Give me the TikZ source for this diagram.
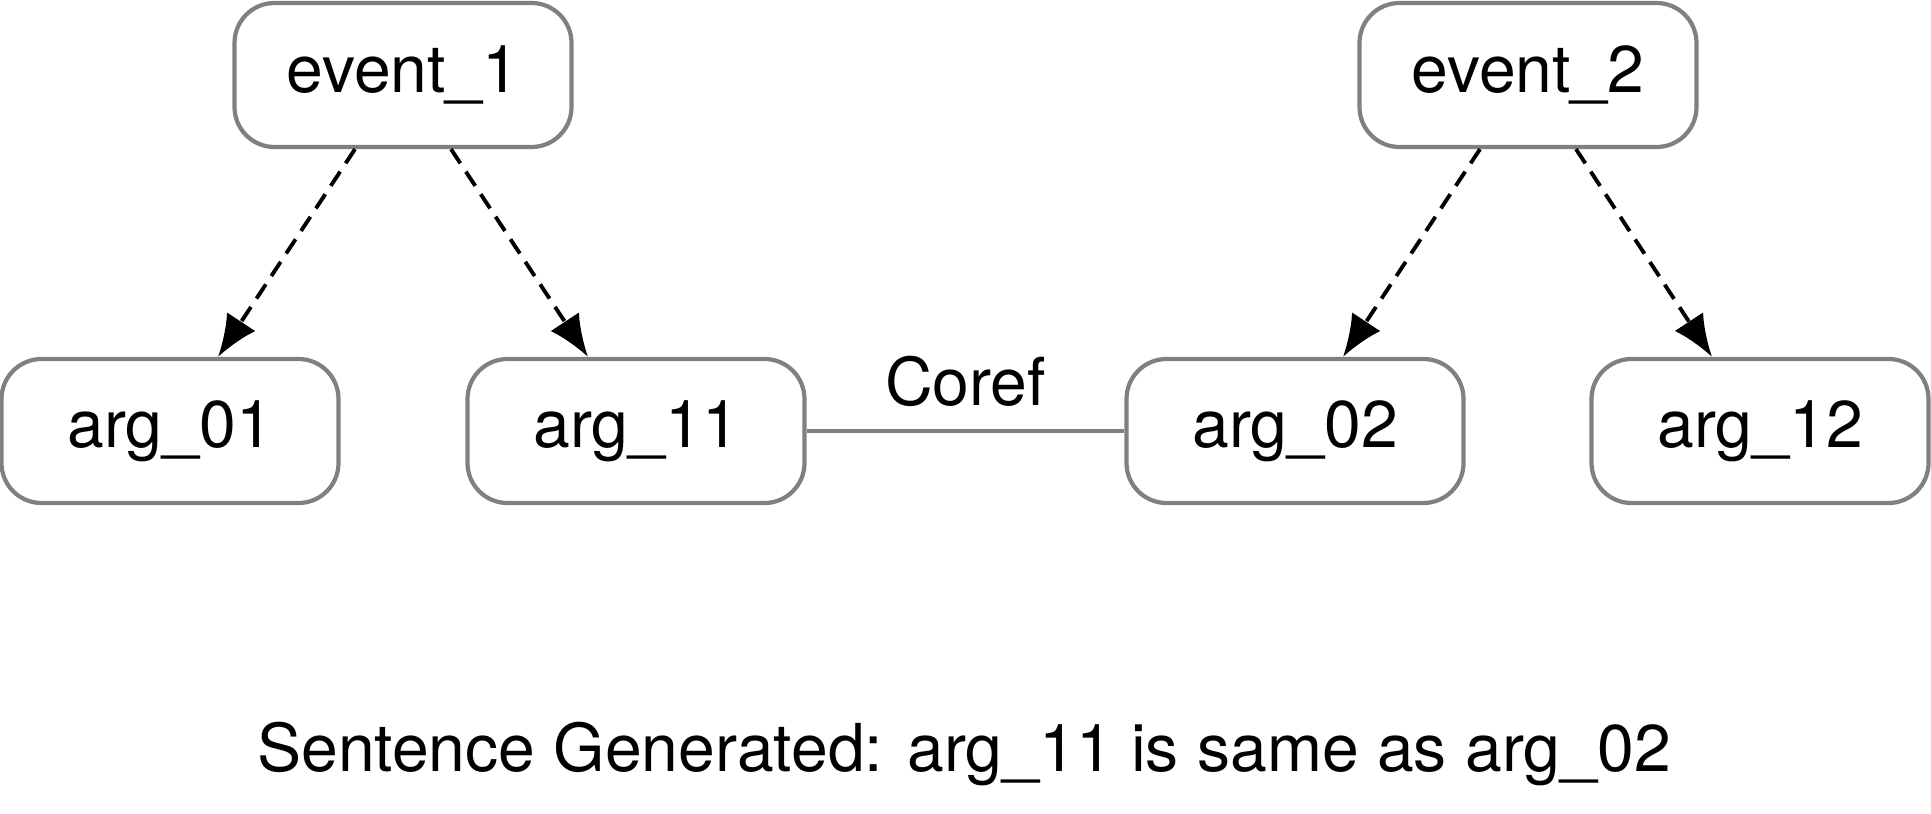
\documentclass[tikz,border=0pt]{standalone}
\usepackage{fontspec}
\setmainfont{TeX Gyre Heros}
\usetikzlibrary{arrows.meta}
\tikzset{
  box/.style={draw=gray,line width=1.2pt,rounded corners=0.4cm,
              minimum width=3.37cm,minimum height=1.44cm,inner sep=0pt},
  link/.style={dash pattern=on 0.17cm off 0.1cm,line width=1.1pt,
               -{Latex[length=4.2mm,width=3.4mm]}},
  coref/.style={draw=gray,line width=1.2pt}
}
\begin{document}
\begin{tikzpicture}[font=\fontsize{18.8}{22}\selectfont]
            \useasboundingbox (0,0) rectangle (19.31,-8.14);
            \def\dx{0.48}
            \node[box] (e1) at (4.03,-0.75) {event\_1};
            \node[box] (e2) at (15.28,-0.75) {event\_2};
            \node[box] (a01) at (1.70,-4.31) {arg\_01};
            \node[box] (a11) at (6.36,-4.31) {arg\_11};
            \node[box] (a02) at (12.95,-4.31) {arg\_02};
            \node[box] (a12) at (17.60,-4.31) {arg\_12};
            \draw[link] ([xshift=-\dx cm]e1.south) -- ([xshift=\dx cm]a01.north);
            \draw[link] ([xshift=\dx cm]e1.south) -- ([xshift=-\dx cm]a11.north);
            \draw[link] ([xshift=-\dx cm]e2.south) -- ([xshift=\dx cm]a02.north);
            \draw[link] ([xshift=\dx cm]e2.south) -- ([xshift=-\dx cm]a12.north);
            \draw[coref] (a11) -- (a02)
                node[midway,above=0.1cm] (cl) {Coref};
            \node (sent) at (9.64,-7.54) {Sentence Generated: arg\_11 is same as arg\_02};
\end{tikzpicture}
\end{document}
